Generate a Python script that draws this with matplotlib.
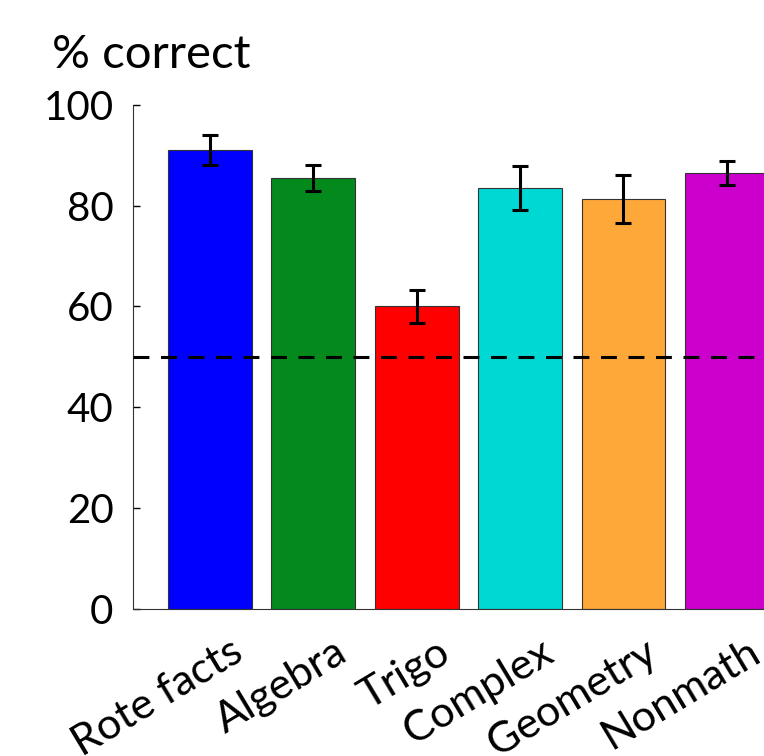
import numpy as np
import matplotlib
matplotlib.use('Agg')
import matplotlib.pyplot as plt
import matplotlib.transforms as mtransforms

plt.rcParams['font.family'] = ['Lato', 'DejaVu Sans']

# task categories and mean accuracy with error bars
categories = ['Rote facts', 'Algebra', 'Trigo', 'Complex', 'Geometry', 'Nonmath']
pct_correct = [91.0, 85.5, 60.0, 83.5, 81.3, 86.5]
err = [3.0, 2.5, 3.3, 4.4, 4.8, 2.4]
colors = ['#0000ff', '#03891c', '#ff0000', '#00d8d4', '#ffa83a', '#cc00cc']
chance = 50
yticks = [0, 20, 40, 60, 80, 100]

fig = plt.figure(figsize=(7.64, 7.56), dpi=100)
ax = fig.add_axes([0.174, 0.1944, 0.826, 0.667])

x = np.arange(len(categories))
ax.bar(x, pct_correct, width=0.81, color=colors, edgecolor='#333333', linewidth=0.8, zorder=2)
ax.errorbar(x, pct_correct, yerr=err, fmt='none', ecolor='black', elinewidth=2.2,
            capsize=6, capthick=2.2, zorder=3)
ax.axhline(chance, color='black', linestyle=(0, (5.2, 3.8)), linewidth=2.2, zorder=4)

ax.set_xlim(-0.745, 5.36)
ax.set_ylim(0, 100)
ax.set_yticks(yticks)
ax.set_xticks(x)
ax.set_xticklabels(categories, rotation=31, ha='right', rotation_mode='anchor')
ax.tick_params(axis='y', direction='in', length=5, width=1, labelsize=29, pad=14)
ax.tick_params(axis='x', length=0, labelsize=31, pad=17)

# nudge the slanted labels to the right of their bars
shift = mtransforms.ScaledTranslation(20 / 100, 0, fig.dpi_scale_trans)
for lbl in ax.get_xticklabels():
    lbl.set_transform(lbl.get_transform() + shift)

ax.spines['top'].set_visible(False)
ax.spines['right'].set_visible(False)
ax.spines['left'].set_color('#333333')
ax.spines['bottom'].set_color('#333333')

fig.text(0.068, 0.91, '% correct', fontsize=34, ha='left', va='baseline')

fig.savefig('out.png', dpi=100)
